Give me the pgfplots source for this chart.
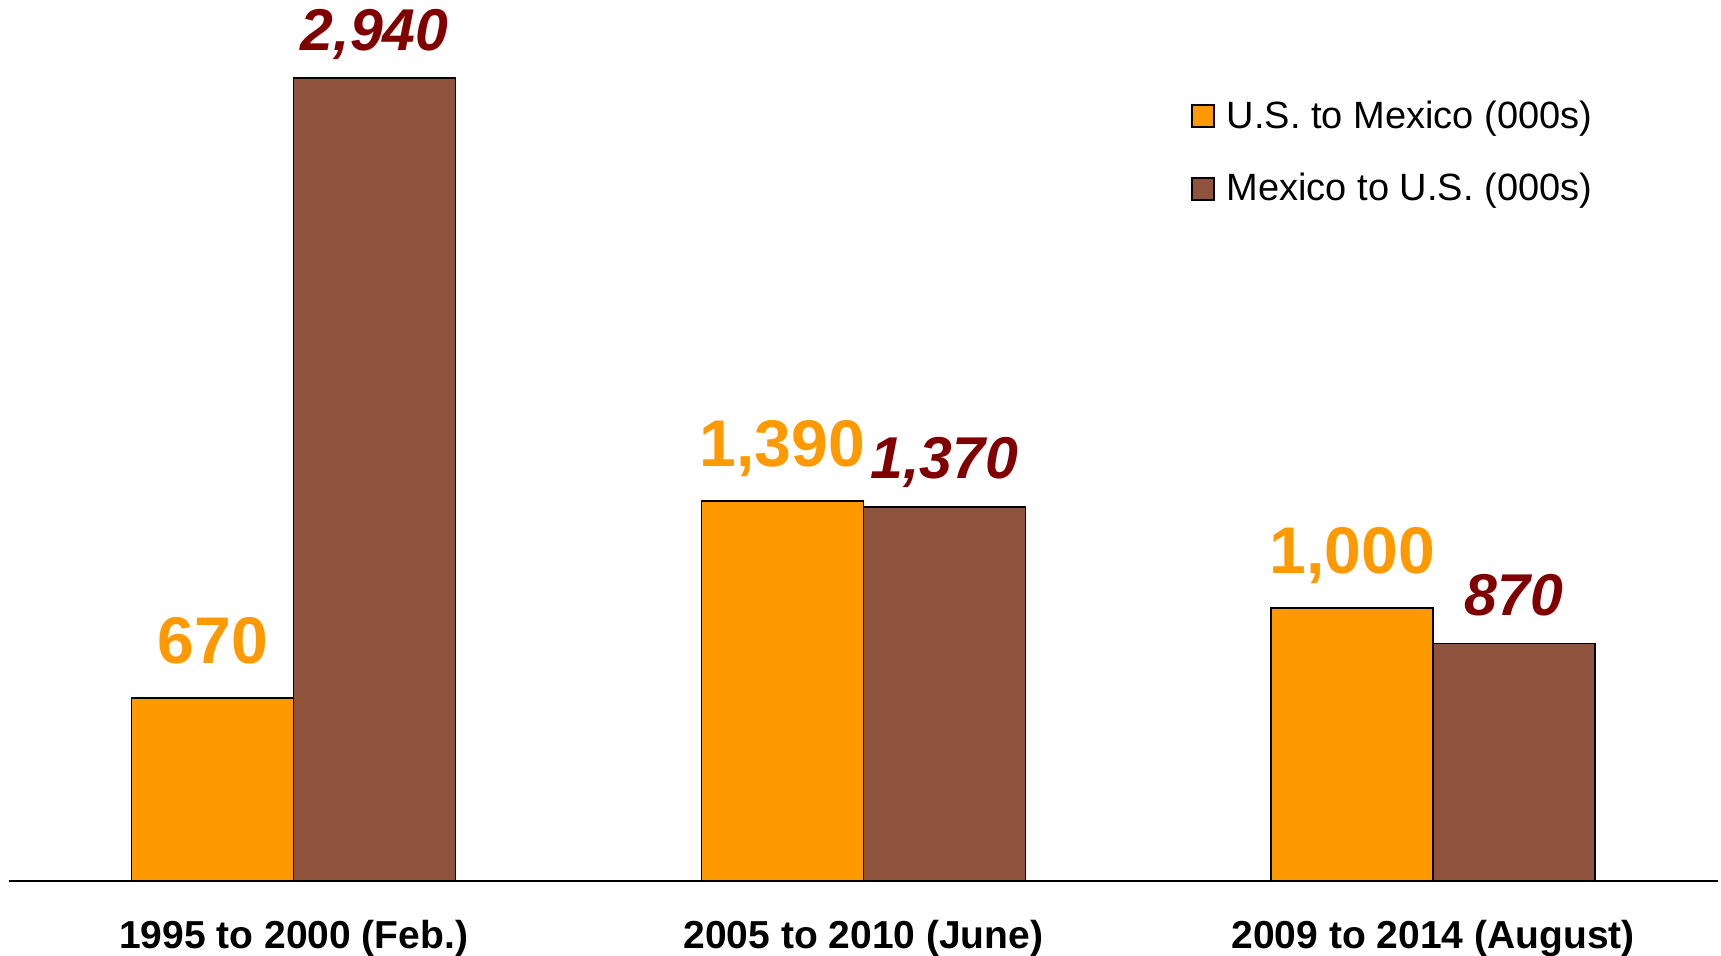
\documentclass[border=0pt]{standalone}
\usepackage{fontspec}
\setmainfont{Liberation Sans}
\usepackage{pgfplots}
\pgfplotsset{compat=1.18}
\usetikzlibrary{calc}
\definecolor{usorange}{HTML}{FF9900}
\definecolor{mxbrown}{HTML}{8F523C}
\definecolor{lbldark}{HTML}{800000}
\begin{document}
\begin{tikzpicture}
\begin{axis}[
  name=ax,
  scale only axis,
  width=854.6pt, height=440.5pt,
  xmin=-0.5, xmax=2.5, ymin=0, ymax=3225,
  ybar=0pt, bar width=81pt,
  axis x line=bottom, axis y line=none,
  axis line style={-, black, line width=0.8pt},
  xtick={0,1,2},
  xticklabels={1995 to 2000 (Feb.), 2005 to 2010 (June), 2009 to 2014 (August)},
  major tick length=0pt,
  xticklabel style={font=\fontsize{19.5}{23}\selectfont\bfseries, yshift=-16pt},
  ytick=\empty,
  clip=false,
  point meta=explicit symbolic,
  nodes near coords,
  legend style={at={(rel axis cs:0.688,0.895)}, anchor=north west, draw=none, fill=none,
    font=\fontsize{19}{23}\selectfont, row sep=17pt,
    /tikz/every odd column/.append style={column sep=4pt}},
  legend cell align=left,
]
\addplot[fill=usorange, draw=black, line width=0.8pt,
  legend image code/.code={\draw[fill=usorange,draw=black,line width=0.8pt] (0pt,-5.5pt) rectangle (11pt,5.5pt);},
  every node near coord/.append style={font=\fontsize{33}{36}\selectfont\bfseries, text=usorange, inner sep=0pt, text depth=0pt, yshift=17pt}]
  coordinates {(0,670)[670] (1,1390)[1,390] (2,1000)[1,000]};
\addlegendentry{U.S. to Mexico (000s)}
\addplot[fill=mxbrown, draw=black, line width=0.8pt,
  legend image code/.code={\draw[fill=mxbrown,draw=black,line width=0.8pt] (0pt,-5.5pt) rectangle (11pt,5.5pt);},
  every node near coord/.append style={font=\fontsize{29.5}{33}\selectfont\bfseries\itshape, text=lbldark, inner sep=0pt, text depth=0pt, yshift=13.5pt}]
  coordinates {(0,2940)[2,940] (1,1370)[1,370] (2,870)[870]};
\addlegendentry{Mexico to U.S. (000s)}
\end{axis}
\pgfresetboundingbox
\path[use as bounding box] ($(ax.south west)+(-4.4pt,-37pt)$) rectangle ($(ax.north east)+(1.5pt,0pt)$);
\end{tikzpicture}
\end{document}
